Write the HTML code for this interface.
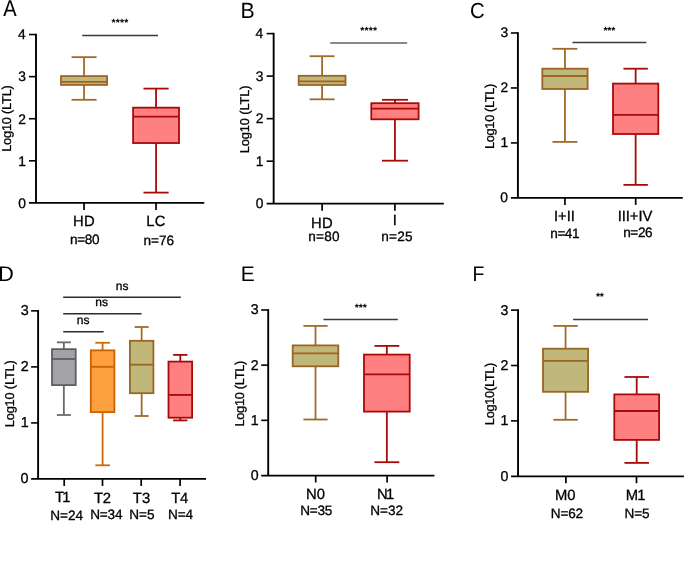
<!DOCTYPE html>
<html><head><meta charset="utf-8"><style>
html,body{margin:0;padding:0;background:#fff;}
body{width:685px;height:579px;overflow:hidden;}
svg{display:block;font-family:"Liberation Sans",sans-serif;will-change:transform;}
text{fill:#000;text-rendering:geometricPrecision;stroke:#000;stroke-width:0.3px;}
text.L,text.S{stroke:none;}
</style></head><body>
<svg width="685" height="579" viewBox="0 0 685 579">
<rect width="685" height="579" fill="#fff"/>
<text class="L" transform="translate(3.3,15.5) scale(0.884,1)" x="0" y="0" font-size="22.8">A</text>
<line x1="84.05" y1="57.15" x2="84.05" y2="76.1" stroke="#a06a28" stroke-width="1.8" stroke-linecap="butt"/>
<line x1="84.05" y1="84.9" x2="84.05" y2="99.8" stroke="#a06a28" stroke-width="1.8" stroke-linecap="butt"/>
<line x1="71.55" y1="57.15" x2="96.55" y2="57.15" stroke="#a06a28" stroke-width="1.8" stroke-linecap="butt"/>
<line x1="71.55" y1="99.8" x2="96.55" y2="99.8" stroke="#a06a28" stroke-width="1.8" stroke-linecap="butt"/>
<rect x="61" y="76.1" width="46.1" height="8.8" fill="#c0b77a" stroke="#9b6524" stroke-width="1.8"/>
<line x1="61" y1="81.85" x2="107.1" y2="81.85" stroke="#9b6524" stroke-width="1.8" stroke-linecap="butt"/>
<line x1="156.05" y1="88.6" x2="156.05" y2="107.65" stroke="#a80a0a" stroke-width="1.8" stroke-linecap="butt"/>
<line x1="156.05" y1="143.05" x2="156.05" y2="192.6" stroke="#a80a0a" stroke-width="1.8" stroke-linecap="butt"/>
<line x1="143.45" y1="88.6" x2="168.65" y2="88.6" stroke="#a80a0a" stroke-width="1.8" stroke-linecap="butt"/>
<line x1="143.45" y1="192.6" x2="168.65" y2="192.6" stroke="#a80a0a" stroke-width="1.8" stroke-linecap="butt"/>
<rect x="133.1" y="107.65" width="45.9" height="35.4" fill="#ff8080" stroke="#a80a0a" stroke-width="1.8"/>
<line x1="133.1" y1="116.6" x2="179" y2="116.6" stroke="#a80a0a" stroke-width="1.8" stroke-linecap="butt"/>
<line x1="36" y1="33.74" x2="36" y2="202.9" stroke="#000" stroke-width="1.9" stroke-linecap="butt"/>
<line x1="29" y1="202.9" x2="204.3" y2="202.9" stroke="#000" stroke-width="1.75" stroke-linecap="butt"/>
<text x="18.22" y="207.7" font-size="13.8">0</text>
<line x1="29" y1="160.81" x2="36" y2="160.81" stroke="#000" stroke-width="1.6" stroke-linecap="butt"/>
<text x="18.36" y="165.61" font-size="13.8">1</text>
<line x1="29" y1="118.72" x2="36" y2="118.72" stroke="#000" stroke-width="1.6" stroke-linecap="butt"/>
<text x="18.36" y="123.52" font-size="13.8">2</text>
<line x1="29" y1="76.63" x2="36" y2="76.63" stroke="#000" stroke-width="1.6" stroke-linecap="butt"/>
<text x="18.36" y="81.43" font-size="13.8">3</text>
<line x1="29" y1="34.54" x2="36" y2="34.54" stroke="#000" stroke-width="1.6" stroke-linecap="butt"/>
<text x="18.09" y="39.34" font-size="13.8">4</text>
<line x1="84.05" y1="202.9" x2="84.05" y2="209.9" stroke="#000" stroke-width="1.7" stroke-linecap="butt"/>
<line x1="156.05" y1="202.9" x2="156.05" y2="209.9" stroke="#000" stroke-width="1.7" stroke-linecap="butt"/>
<text x="73.02" y="225.8" font-size="14.8" letter-spacing="0.264">HD</text>
<text x="69.95" y="244.16" font-size="13.6" letter-spacing="-0.301">n=80</text>
<text x="146.22" y="225.85" font-size="14.8" letter-spacing="0.280">LC</text>
<text x="143.55" y="244.66" font-size="13.6" letter-spacing="-0.035">n=76</text>
<line x1="82.2" y1="35.5" x2="158" y2="35.5" stroke="#3a3a3a" stroke-width="1.3" stroke-linecap="butt"/>
<text x="111.49" y="26.35" font-size="10.5" letter-spacing="0.143" font-weight="bold" class="S">****</text>
<text transform="translate(11,151.82) rotate(-90)" font-size="12.8" letter-spacing="-0.214">Log10 (LTL)</text>
<text class="L" transform="translate(242.3,17.6) scale(0.960,1)" x="-1.78" y="0" font-size="22.2">B</text>
<line x1="322.1" y1="56.2" x2="322.1" y2="75.8" stroke="#a06a28" stroke-width="1.8" stroke-linecap="butt"/>
<line x1="322.1" y1="85" x2="322.1" y2="99.3" stroke="#a06a28" stroke-width="1.8" stroke-linecap="butt"/>
<line x1="309.6" y1="56.2" x2="334.6" y2="56.2" stroke="#a06a28" stroke-width="1.8" stroke-linecap="butt"/>
<line x1="309.6" y1="99.3" x2="334.6" y2="99.3" stroke="#a06a28" stroke-width="1.8" stroke-linecap="butt"/>
<rect x="298.7" y="75.8" width="46.8" height="9.2" fill="#c0b77a" stroke="#9b6524" stroke-width="1.8"/>
<line x1="298.7" y1="81.3" x2="345.5" y2="81.3" stroke="#9b6524" stroke-width="1.8" stroke-linecap="butt"/>
<line x1="394.95" y1="99.8" x2="394.95" y2="103.2" stroke="#a80a0a" stroke-width="1.8" stroke-linecap="butt"/>
<line x1="394.95" y1="119.3" x2="394.95" y2="160.7" stroke="#a80a0a" stroke-width="1.8" stroke-linecap="butt"/>
<line x1="381.95" y1="99.8" x2="407.95" y2="99.8" stroke="#a80a0a" stroke-width="1.8" stroke-linecap="butt"/>
<line x1="381.95" y1="160.7" x2="407.95" y2="160.7" stroke="#a80a0a" stroke-width="1.8" stroke-linecap="butt"/>
<rect x="371.3" y="103.2" width="47.3" height="16.1" fill="#ff8080" stroke="#a80a0a" stroke-width="1.8"/>
<line x1="371.3" y1="108.7" x2="418.6" y2="108.7" stroke="#a80a0a" stroke-width="1.8" stroke-linecap="butt"/>
<line x1="273.65" y1="32.8" x2="273.65" y2="203.7" stroke="#000" stroke-width="1.9" stroke-linecap="butt"/>
<line x1="266.65" y1="203.7" x2="443.8" y2="203.7" stroke="#000" stroke-width="1.75" stroke-linecap="butt"/>
<text x="255.72" y="208.1" font-size="13.8">0</text>
<line x1="266.65" y1="161.17" x2="273.65" y2="161.17" stroke="#000" stroke-width="1.6" stroke-linecap="butt"/>
<text x="255.86" y="165.57" font-size="13.8">1</text>
<line x1="266.65" y1="118.65" x2="273.65" y2="118.65" stroke="#000" stroke-width="1.6" stroke-linecap="butt"/>
<text x="255.86" y="123.05" font-size="13.8">2</text>
<line x1="266.65" y1="76.12" x2="273.65" y2="76.12" stroke="#000" stroke-width="1.6" stroke-linecap="butt"/>
<text x="255.86" y="80.53" font-size="13.8">3</text>
<line x1="266.65" y1="33.6" x2="273.65" y2="33.6" stroke="#000" stroke-width="1.6" stroke-linecap="butt"/>
<text x="255.59" y="38" font-size="13.8">4</text>
<line x1="322.1" y1="203.7" x2="322.1" y2="210.7" stroke="#000" stroke-width="1.7" stroke-linecap="butt"/>
<line x1="394.9" y1="203.7" x2="394.9" y2="210.7" stroke="#000" stroke-width="1.7" stroke-linecap="butt"/>
<text x="311.02" y="227.5" font-size="14.8" letter-spacing="0.364">HD</text>
<text x="308.35" y="240.96" font-size="13.6" letter-spacing="0.199">n=80</text>
<text x="392.78" y="225.2" font-size="14.8">I</text>
<text x="381.35" y="241.06" font-size="13.6" letter-spacing="0.165">n=25</text>
<line x1="330.3" y1="43" x2="407.1" y2="43" stroke="#606060" stroke-width="1.6" stroke-linecap="butt"/>
<text x="360.19" y="34.09" font-size="10.5" letter-spacing="0.177" font-weight="bold" class="S">****</text>
<text transform="translate(248.9,153.22) rotate(-90)" font-size="12.8" letter-spacing="-0.104">Log10 (LTL)</text>
<text class="L" transform="translate(470.9,18.38) scale(0.928,1)" x="-1.09" y="0" font-size="21.9">C</text>
<line x1="564.95" y1="48.8" x2="564.95" y2="68.7" stroke="#a06a28" stroke-width="1.8" stroke-linecap="butt"/>
<line x1="564.95" y1="89" x2="564.95" y2="141.9" stroke="#a06a28" stroke-width="1.8" stroke-linecap="butt"/>
<line x1="552.5" y1="48.8" x2="577.4" y2="48.8" stroke="#a06a28" stroke-width="1.8" stroke-linecap="butt"/>
<line x1="552.5" y1="141.9" x2="577.4" y2="141.9" stroke="#a06a28" stroke-width="1.8" stroke-linecap="butt"/>
<rect x="542.3" y="68.7" width="45.3" height="20.3" fill="#c0b77a" stroke="#9b6524" stroke-width="1.8"/>
<line x1="542.3" y1="76" x2="587.6" y2="76" stroke="#9b6524" stroke-width="1.8" stroke-linecap="butt"/>
<line x1="635.65" y1="68.7" x2="635.65" y2="83.6" stroke="#a80a0a" stroke-width="1.8" stroke-linecap="butt"/>
<line x1="635.65" y1="134" x2="635.65" y2="184.9" stroke="#a80a0a" stroke-width="1.8" stroke-linecap="butt"/>
<line x1="623.45" y1="68.7" x2="647.85" y2="68.7" stroke="#a80a0a" stroke-width="1.8" stroke-linecap="butt"/>
<line x1="623.45" y1="184.9" x2="647.85" y2="184.9" stroke="#a80a0a" stroke-width="1.8" stroke-linecap="butt"/>
<rect x="613" y="83.6" width="45.3" height="50.4" fill="#ff8080" stroke="#a80a0a" stroke-width="1.8"/>
<line x1="613" y1="114.9" x2="658.3" y2="114.9" stroke="#a80a0a" stroke-width="1.8" stroke-linecap="butt"/>
<line x1="517.9" y1="32.19" x2="517.9" y2="197.9" stroke="#000" stroke-width="1.9" stroke-linecap="butt"/>
<line x1="510.9" y1="197.9" x2="682.8" y2="197.9" stroke="#000" stroke-width="1.75" stroke-linecap="butt"/>
<text x="500.37" y="202.3" font-size="13.8">0</text>
<line x1="510.9" y1="142.93" x2="517.9" y2="142.93" stroke="#000" stroke-width="1.6" stroke-linecap="butt"/>
<text x="500.51" y="147.33" font-size="13.8">1</text>
<line x1="510.9" y1="87.96" x2="517.9" y2="87.96" stroke="#000" stroke-width="1.6" stroke-linecap="butt"/>
<text x="500.51" y="92.36" font-size="13.8">2</text>
<line x1="510.9" y1="32.99" x2="517.9" y2="32.99" stroke="#000" stroke-width="1.6" stroke-linecap="butt"/>
<text x="500.51" y="37.39" font-size="13.8">3</text>
<line x1="564.95" y1="197.9" x2="564.95" y2="204.9" stroke="#000" stroke-width="1.7" stroke-linecap="butt"/>
<line x1="635.7" y1="197.9" x2="635.7" y2="204.9" stroke="#000" stroke-width="1.7" stroke-linecap="butt"/>
<text x="554.07" y="221" font-size="14.8" letter-spacing="-0.051">I+II</text>
<text x="550.35" y="237.6" font-size="13.6" letter-spacing="-0.489">n=41</text>
<text x="617.77" y="220.8" font-size="14.8" letter-spacing="-0.090">III+IV</text>
<text x="623.15" y="237.46" font-size="13.6" letter-spacing="-0.368">n=26</text>
<line x1="572.5" y1="42.5" x2="646.3" y2="42.5" stroke="#3a3a3a" stroke-width="1.3" stroke-linecap="butt"/>
<text x="603.5" y="33.89" font-size="10.5" letter-spacing="-0.237" font-weight="bold" class="S">***</text>
<text transform="translate(493.9,148.92) rotate(-90)" font-size="12.8" letter-spacing="-0.354">Log10 (LTL)</text>
<text class="L" transform="translate(0,280.6) scale(1.015,1)" x="-1.7" y="0" font-size="21.2">D</text>
<line x1="63.85" y1="342.35" x2="63.85" y2="349.15" stroke="#6a6a6a" stroke-width="1.8" stroke-linecap="butt"/>
<line x1="63.85" y1="385.1" x2="63.85" y2="415" stroke="#6a6a6a" stroke-width="1.8" stroke-linecap="butt"/>
<line x1="56.85" y1="342.35" x2="70.85" y2="342.35" stroke="#6a6a6a" stroke-width="1.8" stroke-linecap="butt"/>
<line x1="56.85" y1="415" x2="70.85" y2="415" stroke="#6a6a6a" stroke-width="1.8" stroke-linecap="butt"/>
<rect x="52" y="349.15" width="23.7" height="35.95" fill="#a3a2a7" stroke="#5f5f5f" stroke-width="1.8"/>
<line x1="52" y1="359" x2="75.7" y2="359" stroke="#5f5f5f" stroke-width="1.8" stroke-linecap="butt"/>
<line x1="102.6" y1="342.75" x2="102.6" y2="350.35" stroke="#cc6a08" stroke-width="1.8" stroke-linecap="butt"/>
<line x1="102.6" y1="412.1" x2="102.6" y2="465.3" stroke="#cc6a08" stroke-width="1.8" stroke-linecap="butt"/>
<line x1="95.3" y1="342.75" x2="109.9" y2="342.75" stroke="#cc6a08" stroke-width="1.8" stroke-linecap="butt"/>
<line x1="95.3" y1="465.3" x2="109.9" y2="465.3" stroke="#cc6a08" stroke-width="1.8" stroke-linecap="butt"/>
<rect x="90.8" y="350.35" width="23.6" height="61.75" fill="#ffa040" stroke="#c86400" stroke-width="1.8"/>
<line x1="90.8" y1="366.8" x2="114.4" y2="366.8" stroke="#c86400" stroke-width="1.8" stroke-linecap="butt"/>
<line x1="141.65" y1="327" x2="141.65" y2="340.8" stroke="#a06a28" stroke-width="1.8" stroke-linecap="butt"/>
<line x1="141.65" y1="393.2" x2="141.65" y2="416" stroke="#a06a28" stroke-width="1.8" stroke-linecap="butt"/>
<line x1="134.6" y1="327" x2="148.7" y2="327" stroke="#a06a28" stroke-width="1.8" stroke-linecap="butt"/>
<line x1="134.6" y1="416" x2="148.7" y2="416" stroke="#a06a28" stroke-width="1.8" stroke-linecap="butt"/>
<rect x="129.9" y="340.8" width="23.5" height="52.4" fill="#c0b77a" stroke="#9b6524" stroke-width="1.8"/>
<line x1="129.9" y1="364.7" x2="153.4" y2="364.7" stroke="#9b6524" stroke-width="1.8" stroke-linecap="butt"/>
<line x1="180.3" y1="354.9" x2="180.3" y2="361.6" stroke="#a80a0a" stroke-width="1.8" stroke-linecap="butt"/>
<line x1="180.3" y1="417.7" x2="180.3" y2="420.4" stroke="#a80a0a" stroke-width="1.8" stroke-linecap="butt"/>
<line x1="173.15" y1="354.9" x2="187.45" y2="354.9" stroke="#a80a0a" stroke-width="1.8" stroke-linecap="butt"/>
<line x1="173.15" y1="420.4" x2="187.45" y2="420.4" stroke="#a80a0a" stroke-width="1.8" stroke-linecap="butt"/>
<rect x="168.5" y="361.6" width="23.6" height="56.1" fill="#ff8080" stroke="#a80a0a" stroke-width="1.8"/>
<line x1="168.5" y1="394.9" x2="192.1" y2="394.9" stroke="#a80a0a" stroke-width="1.8" stroke-linecap="butt"/>
<line x1="38.1" y1="310.06" x2="38.1" y2="478.95" stroke="#000" stroke-width="1.9" stroke-linecap="butt"/>
<line x1="31.1" y1="478.95" x2="206.05" y2="478.95" stroke="#000" stroke-width="1.75" stroke-linecap="butt"/>
<text x="20.51" y="483.45" font-size="14.4">0</text>
<line x1="31.1" y1="422.92" x2="38.1" y2="422.92" stroke="#000" stroke-width="1.6" stroke-linecap="butt"/>
<text x="20.66" y="427.42" font-size="14.4">1</text>
<line x1="31.1" y1="366.89" x2="38.1" y2="366.89" stroke="#000" stroke-width="1.6" stroke-linecap="butt"/>
<text x="20.66" y="371.39" font-size="14.4">2</text>
<line x1="31.1" y1="310.86" x2="38.1" y2="310.86" stroke="#000" stroke-width="1.6" stroke-linecap="butt"/>
<text x="20.66" y="315.36" font-size="14.4">3</text>
<line x1="64.2" y1="478.95" x2="64.2" y2="485.95" stroke="#000" stroke-width="1.7" stroke-linecap="butt"/>
<line x1="102.5" y1="478.95" x2="102.5" y2="485.95" stroke="#000" stroke-width="1.7" stroke-linecap="butt"/>
<line x1="141.2" y1="478.95" x2="141.2" y2="485.95" stroke="#000" stroke-width="1.7" stroke-linecap="butt"/>
<line x1="180.1" y1="478.95" x2="180.1" y2="485.95" stroke="#000" stroke-width="1.7" stroke-linecap="butt"/>
<text x="55" y="502.4" font-size="14.8" letter-spacing="-1.780">T1</text>
<text x="50.21" y="519.6" font-size="13.6">N=24</text>
<text x="94" y="502.5" font-size="14.8" letter-spacing="-0.280">T2</text>
<text x="90.21" y="518.66" font-size="13.6" letter-spacing="-0.205">N=34</text>
<text x="132.8" y="502.65" font-size="14.8" letter-spacing="0.120">T3</text>
<text x="129.21" y="519.46" font-size="13.6" letter-spacing="0.018">N=5</text>
<text x="171.3" y="502.7" font-size="14.8" letter-spacing="-0.376">T4</text>
<text x="168.11" y="518.8" font-size="13.6" letter-spacing="-0.200">N=4</text>
<line x1="63.2" y1="297.3" x2="180.8" y2="297.3" stroke="#2a2a2a" stroke-width="1.4" stroke-linecap="butt"/>
<line x1="63.2" y1="313.7" x2="141.5" y2="313.7" stroke="#2a2a2a" stroke-width="1.4" stroke-linecap="butt"/>
<line x1="63.2" y1="331.7" x2="103.6" y2="331.7" stroke="#2a2a2a" stroke-width="1.4" stroke-linecap="butt"/>
<text x="115.76" y="290.18" font-size="12">ns</text>
<text x="95.36" y="306.48" font-size="12">ns</text>
<text x="76.86" y="324.38" font-size="12">ns</text>
<text transform="translate(13.7,427.22) rotate(-90)" font-size="12.8" letter-spacing="-0.184">Log10 (LTL)</text>
<text class="L" transform="translate(242.3,280.6) scale(0.987,1)" x="-1.7" y="0" font-size="21.2">E</text>
<line x1="315.5" y1="325.9" x2="315.5" y2="345.4" stroke="#a06a28" stroke-width="1.8" stroke-linecap="butt"/>
<line x1="315.5" y1="366.3" x2="315.5" y2="419.5" stroke="#a06a28" stroke-width="1.8" stroke-linecap="butt"/>
<line x1="303.4" y1="325.9" x2="327.6" y2="325.9" stroke="#a06a28" stroke-width="1.8" stroke-linecap="butt"/>
<line x1="303.4" y1="419.5" x2="327.6" y2="419.5" stroke="#a06a28" stroke-width="1.8" stroke-linecap="butt"/>
<rect x="292.7" y="345.4" width="45.6" height="20.9" fill="#c0b77a" stroke="#9b6524" stroke-width="1.8"/>
<line x1="292.7" y1="353.3" x2="338.3" y2="353.3" stroke="#9b6524" stroke-width="1.8" stroke-linecap="butt"/>
<line x1="386.85" y1="345.9" x2="386.85" y2="354.6" stroke="#a80a0a" stroke-width="1.8" stroke-linecap="butt"/>
<line x1="386.85" y1="411.6" x2="386.85" y2="462.2" stroke="#a80a0a" stroke-width="1.8" stroke-linecap="butt"/>
<line x1="374.4" y1="345.9" x2="399.3" y2="345.9" stroke="#a80a0a" stroke-width="1.8" stroke-linecap="butt"/>
<line x1="374.4" y1="462.2" x2="399.3" y2="462.2" stroke="#a80a0a" stroke-width="1.8" stroke-linecap="butt"/>
<rect x="364" y="354.6" width="45.7" height="57" fill="#ff8080" stroke="#a80a0a" stroke-width="1.8"/>
<line x1="364" y1="374.3" x2="409.7" y2="374.3" stroke="#a80a0a" stroke-width="1.8" stroke-linecap="butt"/>
<line x1="268.2" y1="309.19" x2="268.2" y2="475.5" stroke="#000" stroke-width="1.9" stroke-linecap="butt"/>
<line x1="261.2" y1="475.5" x2="434.4" y2="475.5" stroke="#000" stroke-width="1.75" stroke-linecap="butt"/>
<text x="250.67" y="480" font-size="14.2">0</text>
<line x1="261.2" y1="420.33" x2="268.2" y2="420.33" stroke="#000" stroke-width="1.6" stroke-linecap="butt"/>
<text x="250.81" y="424.83" font-size="14.2">1</text>
<line x1="261.2" y1="365.16" x2="268.2" y2="365.16" stroke="#000" stroke-width="1.6" stroke-linecap="butt"/>
<text x="250.81" y="369.66" font-size="14.2">2</text>
<line x1="261.2" y1="309.99" x2="268.2" y2="309.99" stroke="#000" stroke-width="1.6" stroke-linecap="butt"/>
<text x="250.81" y="314.49" font-size="14.2">3</text>
<line x1="315.7" y1="475.5" x2="315.7" y2="482.5" stroke="#000" stroke-width="1.7" stroke-linecap="butt"/>
<line x1="387.1" y1="475.5" x2="387.1" y2="482.5" stroke="#000" stroke-width="1.7" stroke-linecap="butt"/>
<text x="306.02" y="498.65" font-size="14.8" letter-spacing="0.032">N0</text>
<text x="300.21" y="514.66" font-size="13.6" letter-spacing="-0.260">N=35</text>
<text x="377.12" y="498.6" font-size="14.8" letter-spacing="-1.820">N1</text>
<text x="370.31" y="514.66" font-size="13.6" letter-spacing="-0.015">N=32</text>
<line x1="323.5" y1="319.5" x2="397.8" y2="319.5" stroke="#3a3a3a" stroke-width="1.3" stroke-linecap="butt"/>
<text x="354.79" y="310.5" font-size="10.5" letter-spacing="-0.137" font-weight="bold" class="S">***</text>
<text transform="translate(244,426.55) rotate(-90)" font-size="12.8" letter-spacing="-0.289">Log10 (LTL)</text>
<text class="L" transform="translate(474.1,280.6) scale(0.915,1)" x="-1.7" y="0" font-size="21.2">F</text>
<line x1="565.55" y1="325.9" x2="565.55" y2="348.7" stroke="#a06a28" stroke-width="1.8" stroke-linecap="butt"/>
<line x1="565.55" y1="391.8" x2="565.55" y2="419.8" stroke="#a06a28" stroke-width="1.8" stroke-linecap="butt"/>
<line x1="553.35" y1="325.9" x2="577.75" y2="325.9" stroke="#a06a28" stroke-width="1.8" stroke-linecap="butt"/>
<line x1="553.35" y1="419.8" x2="577.75" y2="419.8" stroke="#a06a28" stroke-width="1.8" stroke-linecap="butt"/>
<rect x="543" y="348.7" width="45.1" height="43.1" fill="#c0b77a" stroke="#9b6524" stroke-width="1.8"/>
<line x1="543" y1="360.9" x2="588.1" y2="360.9" stroke="#9b6524" stroke-width="1.8" stroke-linecap="butt"/>
<line x1="636.7" y1="377" x2="636.7" y2="394.4" stroke="#a80a0a" stroke-width="1.8" stroke-linecap="butt"/>
<line x1="636.7" y1="439.9" x2="636.7" y2="462.9" stroke="#a80a0a" stroke-width="1.8" stroke-linecap="butt"/>
<line x1="624.45" y1="377" x2="648.95" y2="377" stroke="#a80a0a" stroke-width="1.8" stroke-linecap="butt"/>
<line x1="624.45" y1="462.9" x2="648.95" y2="462.9" stroke="#a80a0a" stroke-width="1.8" stroke-linecap="butt"/>
<rect x="614.3" y="394.4" width="44.8" height="45.5" fill="#ff8080" stroke="#a80a0a" stroke-width="1.8"/>
<line x1="614.3" y1="411" x2="659.1" y2="411" stroke="#a80a0a" stroke-width="1.8" stroke-linecap="butt"/>
<line x1="518.05" y1="309.34" x2="518.05" y2="476.25" stroke="#000" stroke-width="1.9" stroke-linecap="butt"/>
<line x1="511.05" y1="476.25" x2="683.9" y2="476.25" stroke="#000" stroke-width="1.75" stroke-linecap="butt"/>
<text x="500.42" y="480.85" font-size="14.2">0</text>
<line x1="511.05" y1="420.88" x2="518.05" y2="420.88" stroke="#000" stroke-width="1.6" stroke-linecap="butt"/>
<text x="500.56" y="425.48" font-size="14.2">1</text>
<line x1="511.05" y1="365.51" x2="518.05" y2="365.51" stroke="#000" stroke-width="1.6" stroke-linecap="butt"/>
<text x="500.56" y="370.11" font-size="14.2">2</text>
<line x1="511.05" y1="310.14" x2="518.05" y2="310.14" stroke="#000" stroke-width="1.6" stroke-linecap="butt"/>
<text x="500.56" y="314.74" font-size="14.2">3</text>
<line x1="565.9" y1="476.25" x2="565.9" y2="483.25" stroke="#000" stroke-width="1.7" stroke-linecap="butt"/>
<line x1="636.5" y1="476.25" x2="636.5" y2="483.25" stroke="#000" stroke-width="1.7" stroke-linecap="butt"/>
<text x="554.92" y="499.55" font-size="14.8" letter-spacing="-0.096">M0</text>
<text x="550.81" y="517.56" font-size="13.6" letter-spacing="-0.181">N=62</text>
<text x="625.82" y="499.7" font-size="14.8" letter-spacing="-0.948">M1</text>
<text x="624.61" y="517.56" font-size="13.6" letter-spacing="-0.132">N=5</text>
<line x1="573.1" y1="319.5" x2="648.1" y2="319.5" stroke="#3a3a3a" stroke-width="1.3" stroke-linecap="butt"/>
<text x="596.1" y="299.6" font-size="10.5" letter-spacing="-0.485" font-weight="bold" class="S">**</text>
<text transform="translate(494,425.15) rotate(-90)" font-size="12.8" letter-spacing="-0.301">Log10(LTL)</text>
</svg>
</body></html>
